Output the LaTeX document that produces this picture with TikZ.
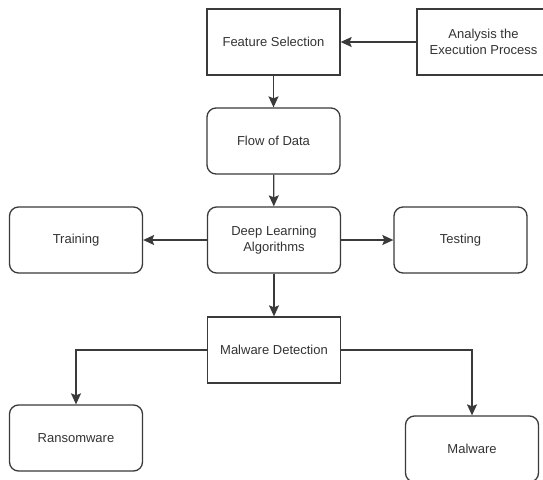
\documentclass[tikz,border=0pt]{standalone}
\usepackage{fontspec}
\setmainfont{Liberation Sans}
\usetikzlibrary{arrows.meta,positioning}
\definecolor{ln}{HTML}{3A3A3A}
\definecolor{tx}{HTML}{333333}
\tikzset{
  box/.style={draw=ln, line width=1.3pt, minimum width=133pt, minimum height=66pt,
    text=tx, font=\fontsize{13}{16.5}\selectfont, align=center, inner sep=0pt},
  rbox/.style={box, rounded corners=9pt},
  conn/.style={draw=ln, line width=1.3pt, -{Stealth[length=11pt,width=10pt,inset=2pt]}}
}
\begin{document}
\begin{tikzpicture}[x=1pt,y=-1pt]
\clip (0,0) rectangle (543,479);
\fill[white] (0,0) rectangle (543,479);
\node[box]  (fs)  at (273.5,42)  {Feature Selection};
\node[box]  (an)  at (483.5,42)  {Analysis the\\Execution Process};
\node[rbox] (fd)  at (273.5,141) {Flow of Data};
\node[rbox] (dl)  at (274,240)   {Deep Learning\\Algorithms};
\node[rbox] (tr)  at (76,240)    {Training};
\node[rbox] (te)  at (460.5,240) {Testing};
\node[box]  (md)  at (274,350)   {Malware Detection};
\node[rbox] (rw)  at (76,438)    {Ransomware};
\node[rbox] (mw)  at (472,449)   {Malware};
\draw[conn] (an) -- (fs);
\draw[conn] (fs) -- (fd);
\draw[conn] (fd) -- (dl);
\draw[conn] (dl) -- (tr);
\draw[conn] (dl) -- (te);
\draw[conn] (dl) -- (md);
\draw[conn] (md.west) -| (rw.north);
\draw[conn] (md.east) -| (mw.north);
\end{tikzpicture}
\end{document}
